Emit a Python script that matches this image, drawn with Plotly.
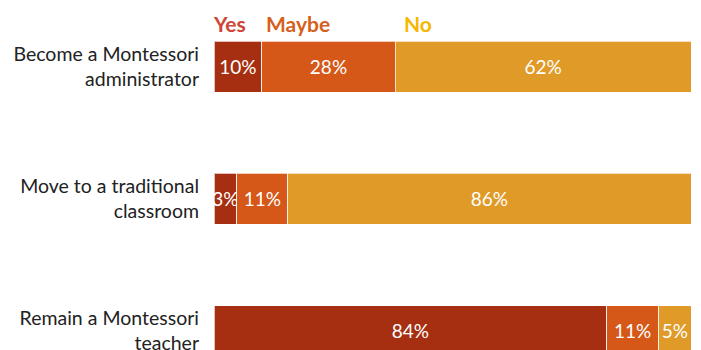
import plotly.graph_objects as go

categories = ["Become a Montessori<br>administrator",
              "Move to a traditional<br>classroom",
              "Remain a Montessori<br>teacher"]
series_names = ["Yes", "Maybe", "No"]
yes_vals = [10, 4.8, 82.3]
maybe_vals = [28, 10.7, 10.9]
no_vals = [62, 84.5, 6.8]
yes_labels = ["10%", "3%", "84%"]
maybe_labels = ["28%", "11%", "11%"]
no_labels = ["62%", "86%", "5%"]

bar_colors = ["#A52F10", "#D55818", "#E09A28"]
legend_colors = ["#CF4538", "#D5601C", "#F5B800"]
FONT = "Lato, 'Open Sans', sans-serif"

fig = go.Figure()
for name, vals, labs, col in zip(series_names,
                                 [yes_vals, maybe_vals, no_vals],
                                 [yes_labels, maybe_labels, no_labels],
                                 bar_colors):
    fig.add_trace(go.Bar(
        y=list(range(len(categories))), x=vals, name=name, orientation="h",
        marker=dict(color=col, line=dict(color="rgba(255,255,255,0.7)", width=1)),
        text=labs, textposition="inside", insidetextanchor="middle",
        textangle=0,
        textfont=dict(color="white", size=19, family=FONT),
        width=0.385, cliponaxis=True, hoverinfo="skip",
    ))

fig.update_layout(
    barmode="stack", width=701, height=350,
    margin=dict(l=214, r=10, t=27, b=0, autoexpand=False),
    paper_bgcolor="white", plot_bgcolor="white",
    showlegend=False,
    uniformtext=dict(minsize=19, mode="show"),
    font=dict(family=FONT, color="#222222"),
    xaxis=dict(range=[0, 100], visible=False, fixedrange=True, automargin=False),
    yaxis=dict(range=[2.144, -0.3], tickmode="array", automargin=False,
               tickvals=list(range(len(categories))), ticktext=categories,
               showgrid=False, zeroline=False, showline=False, ticks="",
               ticklabelstandoff=14, ticklabeloverflow="allow",
               tickfont=dict(size=19.5, family=FONT, color="#222222")),
)

legend_x = [229, 297.5, 418]
plot_h = 350 - 27
for name, col, px in zip(series_names, legend_colors, legend_x):
    fig.add_annotation(text="<b>%s</b>" % name, x=(px - 214) / 477, xref="paper",
                       y=1 + (27 - 23) / plot_h, yref="paper", showarrow=False,
                       font=dict(color=col, size=21, family=FONT),
                       xanchor="center", yanchor="middle")

fig.write_html("out.html")
